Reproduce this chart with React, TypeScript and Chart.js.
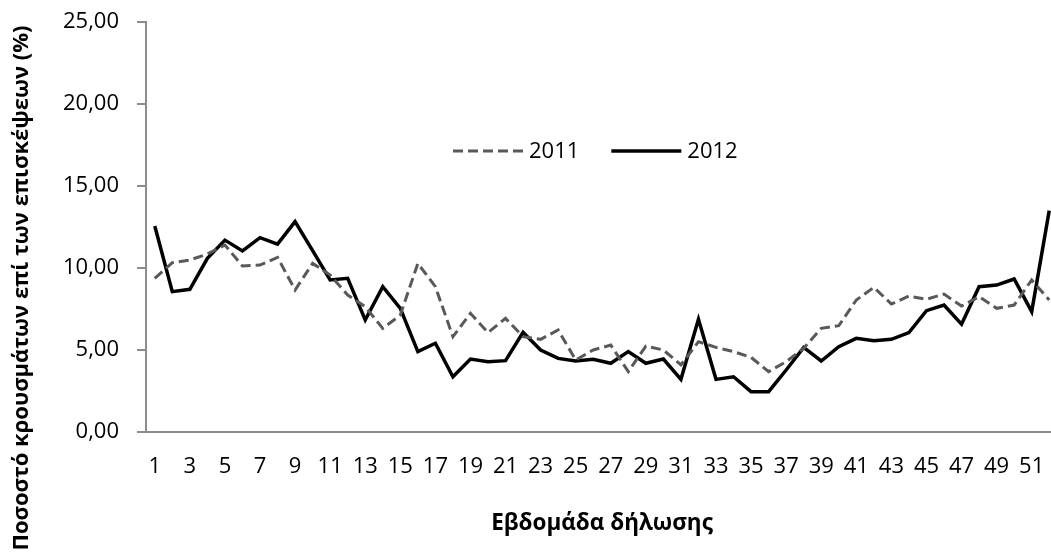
import { useEffect, useRef } from 'react';
import { Chart, registerables } from 'chart.js';

Chart.register(...registerables);

const weeks = [
  '1', '2', '3', '4', '5', '6', '7', '8', '9', '10',
  '11', '12', '13', '14', '15', '16', '17', '18', '19', '20',
  '21', '22', '23', '24', '25', '26', '27', '28', '29', '30',
  '31', '32', '33', '34', '35', '36', '37', '38', '39', '40',
  '41', '42', '43', '44', '45', '46', '47', '48', '49', '50',
  '51', '52',
];

const values2011 = [
  9.37, 10.32, 10.49, 10.85, 11.4, 10.12, 10.18, 10.65, 8.66, 10.28,
  9.57, 8.35, 7.64, 6.32, 7.13, 10.28, 8.86, 5.81, 7.24, 6.06,
  6.93, 5.81, 5.65, 6.22, 4.39, 5.0, 5.3, 3.68, 5.24, 5.0,
  4.09, 5.51, 5.16, 4.9, 4.55, 3.68, 4.29, 5.1, 6.32, 6.48,
  8.05, 8.82, 7.8, 8.29, 8.09, 8.41, 7.68, 8.25, 7.54, 7.74,
  9.27, 8.05,
];

const values2012 = [
  12.56, 8.56, 8.7, 10.59, 11.7, 11.04, 11.85, 11.46, 12.83, 11.06,
  9.27, 9.37, 6.83, 8.86, 7.54, 4.9, 5.41, 3.37, 4.45, 4.29,
  4.35, 6.08, 5.0, 4.49, 4.33, 4.43, 4.19, 4.9, 4.19, 4.45,
  3.21, 6.87, 3.21, 3.37, 2.46, 2.46, 3.78, 5.16, 4.33, 5.2,
  5.71, 5.57, 5.65, 6.06, 7.4, 7.74, 6.57, 8.86, 8.96, 9.33,
  7.34, 13.5,
];

const seriesNames = ['2011', '2012'];
const yMin = 0;
const yMax = 25;
const yStep = 5;
const xTitle = 'Εβδομάδα δήλωσης';
const yTitle = 'Ποσοστό κρουσμάτων επί των επισκέψεων (%)';

const FONT = '"Open Sans", "Noto Sans", sans-serif';
const AXIS_COLOR = '#8c8c8c';

const overlayPlugin = {
  id: 'overlay',
  afterDraw(chart: any) {
    const ctx = chart.ctx as CanvasRenderingContext2D;
    // rotated y-axis title
    ctx.save();
    ctx.font = `bold 22px ${FONT}`;
    ctx.fillStyle = '#000';
    ctx.translate(22, 288);
    ctx.rotate(-Math.PI / 2);
    ctx.textAlign = 'center';
    ctx.textBaseline = 'middle';
    ctx.fillText(yTitle, 0, 0);
    ctx.restore();

    // legend inside plot area
    ctx.save();
    ctx.font = `22px ${FONT}`;
    ctx.textBaseline = 'middle';
    ctx.textAlign = 'left';
    const y = 151;
    let x = 453;
    const sample = 70;
    chart.data.datasets.forEach((ds: any) => {
      ctx.beginPath();
      ctx.strokeStyle = ds.borderColor;
      ctx.lineWidth = ds.borderWidth;
      ctx.setLineDash(ds.borderDash || []);
      ctx.moveTo(x, y);
      ctx.lineTo(x + sample, y);
      ctx.stroke();
      ctx.setLineDash([]);
      ctx.fillStyle = '#000';
      const tx = x + sample + 6;
      ctx.fillText(ds.label, tx, y + 1);
      const w = ctx.measureText(ds.label).width;
      x = tx + w + 32;
    });
    ctx.restore();
  },
};

export default function App() {
  const canvasRef = useRef<HTMLCanvasElement | null>(null);

  useEffect(() => {
    const canvas = canvasRef.current;
    if (!canvas) return;
    const chart = new Chart(canvas, {
      type: 'line',
      data: {
        labels: weeks,
        datasets: [
          {
            label: seriesNames[0],
            data: values2011,
            borderColor: '#595959',
            borderWidth: 3,
            borderDash: [10, 5],
            pointRadius: 0,
            tension: 0,
            fill: false,
          },
          {
            label: seriesNames[1],
            data: values2012,
            borderColor: '#000000',
            borderWidth: 3.5,
            pointRadius: 0,
            tension: 0,
            fill: false,
          },
        ],
      },
      options: {
        responsive: false,
        animation: false,
        devicePixelRatio: 1,
        layout: { padding: { top: 22, left: 0, right: 0, bottom: 0 } },
        plugins: {
          legend: { display: false },
          tooltip: { enabled: false },
          title: { display: false },
        },
        scales: {
          x: {
            type: 'category',
            offset: true,
            grid: { display: false, drawTicks: false },
            border: { display: true, color: AXIS_COLOR, width: 2 },
            ticks: {
              autoSkip: false,
              maxRotation: 0,
              minRotation: 0,
              padding: 22,
              color: '#000',
              font: { family: FONT, size: 22 },
              callback: (_v: any, i: number) => (i % 2 === 0 ? weeks[i] : ''),
            },
            title: {
              display: true,
              text: xTitle,
              color: '#000',
              font: { family: FONT, size: 22.5, weight: 'bold' },
              padding: { top: 0, bottom: 16 },
            },
            afterFit: (scale: any) => {
              scale.height = 121;
              scale.paddingLeft = 0;
              scale.paddingRight = 0;
            },
          },
          y: {
            min: yMin,
            max: yMax,
            grid: {
              display: true,
              drawOnChartArea: false,
              drawTicks: true,
              tickLength: 9,
              color: AXIS_COLOR,
              lineWidth: 2,
            },
            border: { display: true, color: AXIS_COLOR, width: 2 },
            ticks: {
              stepSize: yStep,
              padding: 18,
              color: '#000',
              font: { family: FONT, size: 22 },
              callback: (v: any) => Number(v).toFixed(2).replace('.', ','),
            },
            title: { display: false },
            afterFit: (scale: any) => {
              scale.width = 146;
              scale.paddingTop = 0;
              scale.paddingBottom = 0;
            },
          },
        },
      },
      plugins: [overlayPlugin],
    } as any);
    return () => chart.destroy();
  }, []);

  return (
    <div
      style={{
        position: 'fixed',
        left: 0,
        top: 0,
        width: 1051,
        height: 553,
        overflow: 'hidden',
        background: '#fff',
      }}
    >
      <canvas
        ref={canvasRef}
        width={1058}
        height={553}
        style={{ display: 'block', width: 1058, height: 553 }}
      />
    </div>
  );
}
